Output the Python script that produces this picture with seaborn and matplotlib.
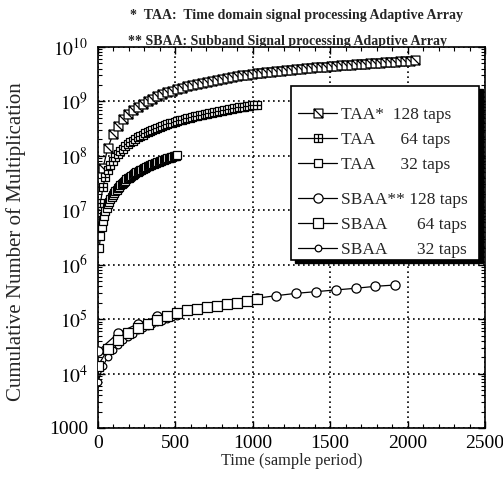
import numpy as np
import pandas as pd
import matplotlib
matplotlib.use("Agg")
import matplotlib.pyplot as plt
import seaborn as sns
from matplotlib.path import Path
from matplotlib.patches import Rectangle
from matplotlib.ticker import FixedLocator, FuncFormatter, LogLocator, MultipleLocator, NullFormatter

# ---------------- data ----------------
taa128_t = np.arange(32, 2049, 32)
taa128_v = np.array([
    60, 140, 250, 360, 470, 580, 690, 800, 910, 1020, 1130, 1240, 1360, 1470, 1580, 1690,
    1800, 1910, 2020, 2120, 2220, 2320, 2420, 2520, 2620, 2720, 2810, 2910, 3000, 3100, 3190, 3280,
    3360, 3440, 3520, 3600, 3680, 3750, 3830, 3910, 3980, 4060, 4130, 4210, 4280, 4360, 4430, 4510,
    4580, 4660, 4730, 4810, 4880, 4960, 5030, 5110, 5180, 5260, 5330, 5410, 5480, 5560, 5630, 5700]) * 1e6

taa64_t = np.arange(16, 1025, 16)
taa64_v = np.array([
    13.6, 27, 41, 54, 68, 82, 95, 109, 122, 136, 150, 163, 177, 190, 204, 218,
    231, 245, 258, 272, 286, 299, 313, 326, 340, 354, 367, 381, 394, 408, 422, 435,
    449, 462, 476, 490, 503, 517, 530, 544, 558, 571, 585, 598, 612, 626, 639, 653,
    666, 680, 694, 707, 721, 734, 748, 762, 775, 789, 802, 816, 830, 843, 857, 870]) * 1e6

taa32_t = np.arange(8, 513, 8)
taa32_v = np.array([
    2.0, 3.4, 4.9, 6.4, 8.0, 9.6, 11.2, 12.8, 14.4, 16.0, 17.6, 19.2, 20.8, 22.4, 24.0, 25.6,
    27.2, 28.8, 30.4, 32.0, 33.6, 35.2, 36.8, 38.4, 40.0, 41.6, 43.2, 44.8, 46.4, 48.0, 49.6, 51.2,
    52.8, 54.4, 56.0, 57.6, 59.2, 60.8, 62.4, 64.0, 65.6, 67.2, 68.8, 70.4, 72.0, 73.6, 75.2, 76.8,
    78.4, 80.0, 81.6, 83.2, 84.8, 86.4, 88.0, 89.6, 91.2, 92.8, 94.4, 96.0, 97.6, 99.2, 101, 103]) * 1e6

sbaa128_t = np.arange(0, 1921, 128)
sbaa128_v = [2.6e4, 5.5e4, 8.2e4, 1.12e5, 1.32e5, 1.54e5, 1.77e5, 2.01e5,
             2.42e5, 2.70e5, 2.98e5, 3.20e5, 3.44e5, 3.69e5, 4.01e5, 4.24e5]

sbaa64_t = np.arange(0, 1025, 64)
sbaa64_v = [1.4e4, 2.8e4, 4.2e4, 5.5e4, 6.9e4, 8.3e4, 9.7e4, 1.12e5, 1.30e5,
            1.46e5, 1.55e5, 1.66e5, 1.77e5, 1.86e5, 2.02e5, 2.13e5, 2.36e5]

sbaa32_t = np.arange(0, 513, 32)
sbaa32_v = [7.0e3, 1.38e4, 2.02e4, 2.75e4, 3.39e4, 4.06e4, 4.69e4, 5.38e4, 6.19e4,
            6.84e4, 7.45e4, 8.2e4, 8.8e4, 9.4e4, 1.01e5, 1.09e5, 1.16e5]

legend_names = ["TAA*  128 taps", "TAA      64 taps", "TAA      32 taps",
                "SBAA** 128 taps", "SBAA       64 taps", "SBAA       32 taps"]
x_ticks = [0, 500, 1000, 1500, 2000, 2500]
y_ticks = [1e3, 1e4, 1e5, 1e6, 1e7, 1e8, 1e9, 1e10]
header1 = "*  TAA:  Time domain signal processing Adaptive Array"
header2 = "** SBAA: Subband Signal processing Adaptive Array"
x_label = "Time (sample period)"
y_label = "Cumulative Number of Multiplication"

# ---------------- style ----------------
sns.set_style("ticks")
plt.rcParams['font.family'] = ['Liberation Serif', 'DejaVu Serif']
plt.rcParams['mathtext.fontset'] = 'stix'
plt.rcParams['axes.linewidth'] = 1.2

M, L, C = Path.MOVETO, Path.LINETO, Path.CLOSEPOLY
sq_diag = Path([(-1, -1), (1, -1), (1, 1), (-1, 1), (-1, -1), (-1, 1), (1, -1)],
               [M, L, L, L, C, M, L])
sq_plus = Path([(-1, -1), (1, -1), (1, 1), (-1, 1), (-1, -1), (-1, 0), (1, 0), (0, -1), (0, 1)],
               [M, L, L, L, C, M, L, M, L])

fig = plt.figure(figsize=(5.03, 4.99), dpi=100)
ax = fig.add_axes([98 / 503, 1 - 428 / 499, 387 / 503, 381 / 499])
ax.set_yscale('log')

series = [
    (taa128_t, taa128_v, sq_diag, 6.4, 2),
    (taa64_t, taa64_v, sq_plus, 6.2, 2),
    (taa32_t, taa32_v, 's', 6.0, 2),
    (sbaa128_t, sbaa128_v, 'o', 6.6, 3),
    (sbaa64_t, sbaa64_v, 's', 6.9, 3.2),
    (sbaa32_t, sbaa32_v, 'o', 4.8, 3.1),
]
handles = []
for t, v, mk, ms, z in series:
    df = pd.DataFrame({"t": t, "v": v})
    sns.lineplot(data=df, x="t", y="v", ax=ax, estimator=None, sort=False,
                 color="black", linewidth=0.9, marker=mk, markersize=ms,
                 markerfacecolor="white", markeredgecolor="black",
                 markeredgewidth=0.9, legend=False, zorder=z)
    handles.append(ax.lines[-1])

ax.set_xlim(0, 2500)
ax.set_ylim(1e3, 1e10)
ax.xaxis.set_major_locator(FixedLocator(x_ticks))
ax.xaxis.set_minor_locator(MultipleLocator(100))
ax.yaxis.set_major_locator(FixedLocator(y_ticks))
ax.yaxis.set_minor_locator(LogLocator(base=10, subs=np.arange(2, 10), numticks=30))
ax.yaxis.set_minor_formatter(NullFormatter())


def yfmt(val, pos):
    e = int(round(np.log10(val)))
    if e == 3:
        return "1000"
    return r"$10^{%d}$" % e


ax.yaxis.set_major_formatter(FuncFormatter(yfmt))
ax.xaxis.set_major_formatter(FuncFormatter(lambda v, p: "%d" % v))

ax.grid(True, which='major', color='black', linestyle=(0, (1, 2)), linewidth=1.2)
ax.tick_params(which='both', direction='in', top=True, right=True, colors='black')
ax.tick_params(which='major', length=5, width=1.0, labelsize=14)
ax.tick_params(which='minor', length=2.8, width=0.8)
ax.tick_params(axis='y', which='major', pad=7)
ax.tick_params(axis='x', which='major', pad=5)
for s in ax.spines.values():
    s.set_color('black')
    s.set_linewidth(1.2)

ax.set_xlabel(x_label, fontsize=11.8)
ax.set_ylabel(y_label, fontsize=15)
ax.xaxis.set_label_coords(0.5, -0.066)
ax.yaxis.set_label_coords(-0.187, 0.49)

# legend frame with drop shadow
bx0, by0 = 0.499, 0.442
bw, bh = 0.486, 0.455
ax.add_patch(Rectangle((bx0 + 0.011, by0 - 0.008), bw, bh, transform=ax.transAxes,
                       facecolor='black', edgecolor='black', zorder=5))
ax.add_patch(Rectangle((bx0, by0), bw, bh, transform=ax.transAxes,
                       facecolor='white', edgecolor='black', linewidth=1.2, zorder=5.1))

leg_kw = dict(loc='upper left', frameon=False, handlelength=2.25, handletextpad=0.2,
              labelspacing=0.52, borderpad=0, borderaxespad=0,
              prop={'family': 'Liberation Serif', 'size': 12.5})
leg1 = ax.legend(handles[:3], legend_names[:3], bbox_to_anchor=(0.517, 0.843), **leg_kw)
leg1.set_zorder(6)
ax.add_artist(leg1)
leg2 = ax.legend(handles[3:], legend_names[3:], bbox_to_anchor=(0.517, 0.620), **leg_kw)
leg2.set_zorder(6)

fig.text(130 / 503, 1 - 15 / 499, header1, ha='left', va='center', fontsize=10, fontweight='bold')
fig.text(128 / 503, 1 - 41 / 499, header2, ha='left', va='center', fontsize=10, fontweight='bold')

fig.savefig("out.png", dpi=100)
